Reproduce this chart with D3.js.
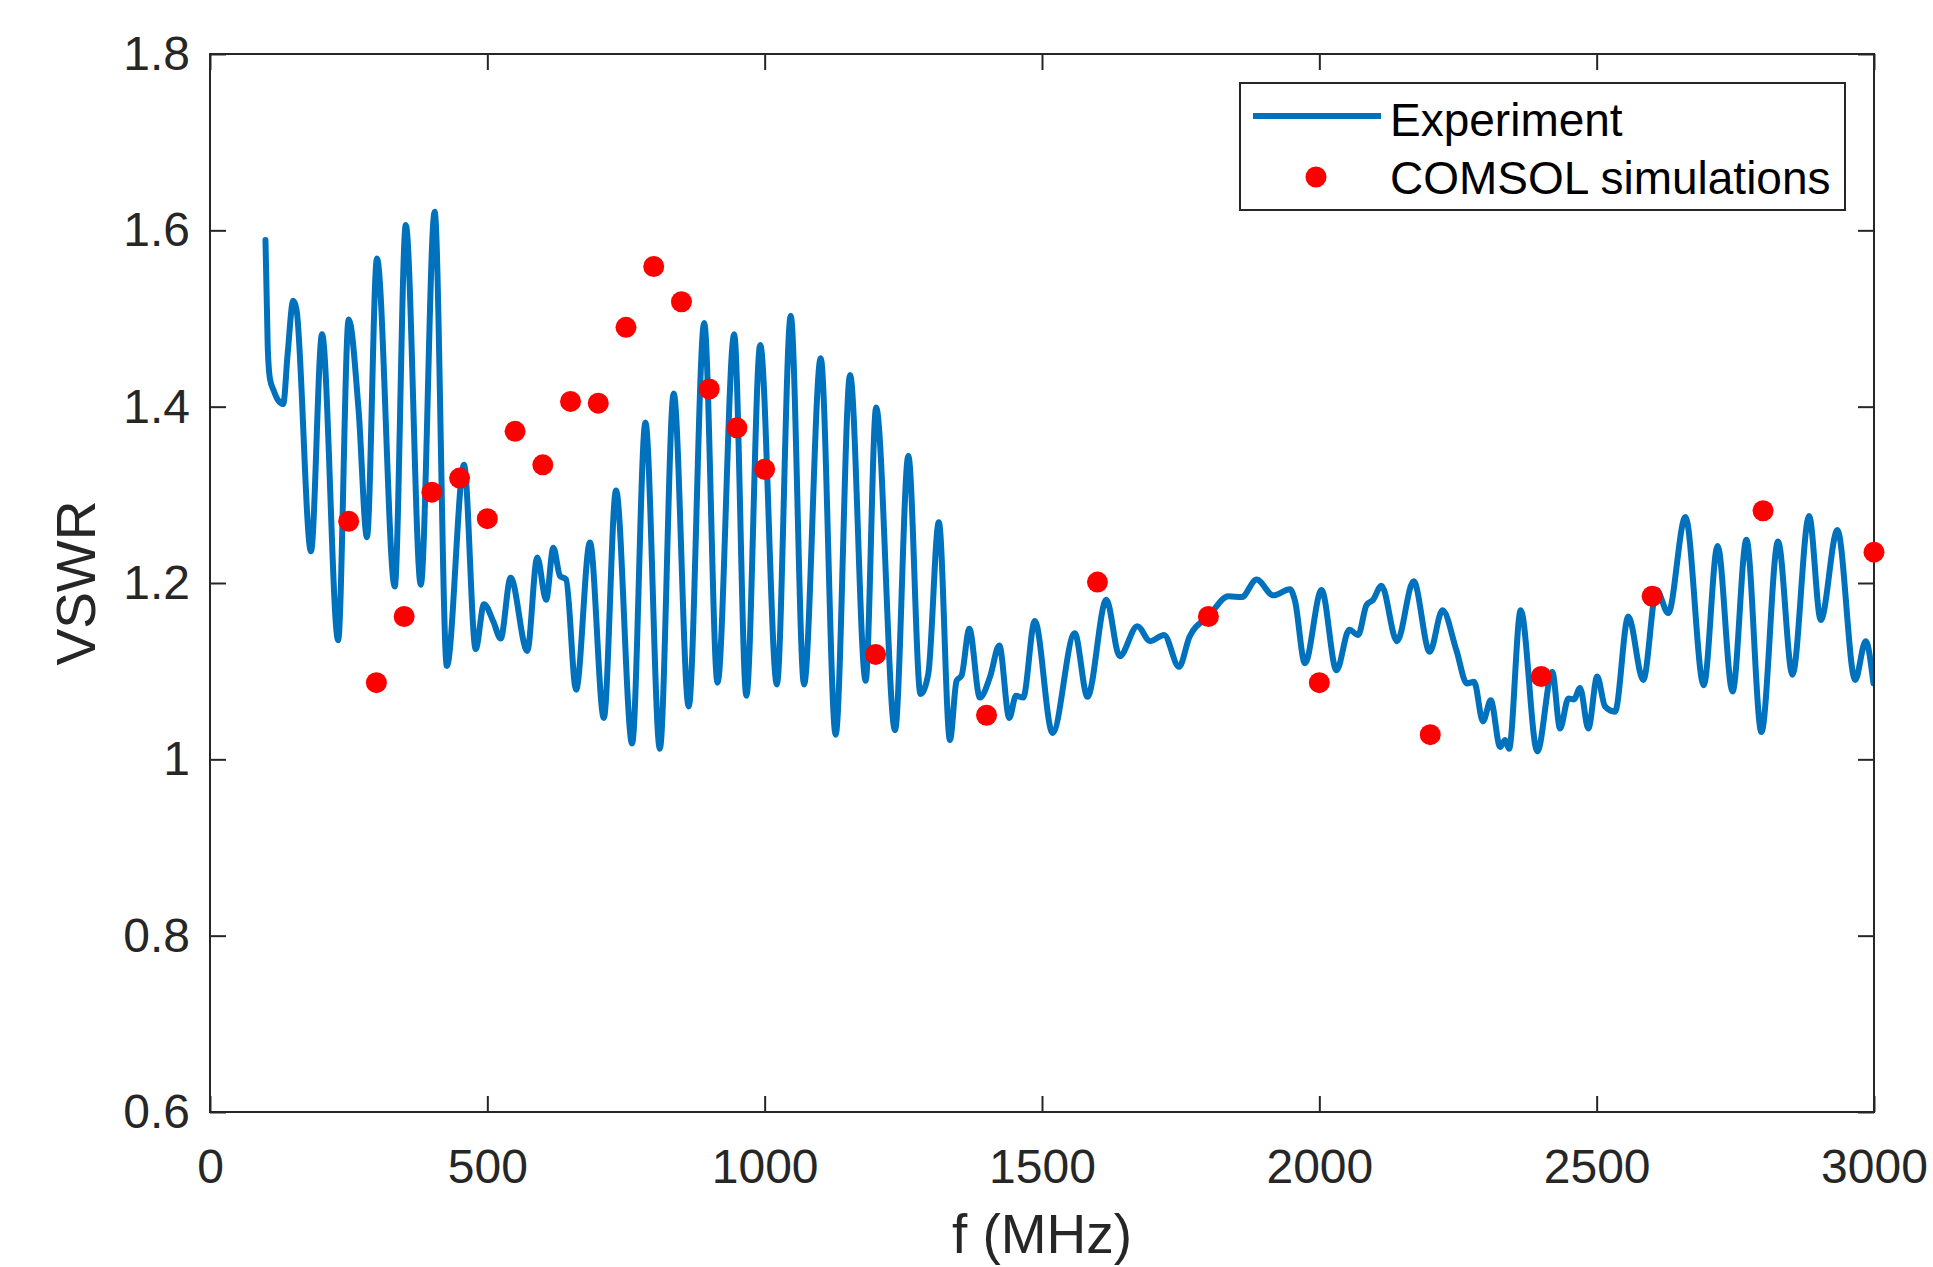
<!DOCTYPE html>
<html>
<head>
<meta charset="utf-8">
<script src="https://cdn.jsdelivr.net/npm/d3@7"></script>
<style>
  html, body { margin: 0; padding: 0; background: #fff; }
  svg { display: block; }
  text { font-family: "Liberation Sans", Arial, Helvetica, sans-serif; }
</style>
</head>
<body>
<svg id="chart" width="1933" height="1267"></svg>
<script>
// ---------------- data ----------------
const expFreq = [100,104,108,115,122,132,140,150,156,182,202,231,250,268,283,301,333,353,380,405,427,458,479,494,511,524,542,572,590,606,619,631,642,660,685,710,732,761,785,811,836,863,891,915,945,967,992,1022,1047,1071,1101,1128,1154,1182,1201,1235,1259,1281,1295,1314,1334,1346,1355,1369,1388,1406,1423,1441,1453,1466,1487,1519,1559,1582,1616,1640,1672,1695,1720,1747,1766,1800,1836,1860,1887,1917,1947,1956,1974,2004,2031,2054,2070,2085,2097,2112,2140,2170,2199,2222,2247,2266,2279,2295,2309,2326,2335,2342,2363,2393,2420,2434,2449,2459,2470,2485,2501,2515,2533,2557,2584,2608,2629,2660,2693,2718,2745,2770,2797,2827,2853,2883,2904,2934,2966,2985,2999];
const expVSWR = [1.589,1.47,1.432,1.418,1.408,1.403,1.46,1.520,1.51,1.236,1.482,1.135,1.499,1.395,1.252,1.568,1.196,1.606,1.198,1.621,1.106,1.334,1.125,1.176,1.156,1.137,1.206,1.123,1.229,1.181,1.240,1.208,1.204,1.079,1.246,1.047,1.305,1.018,1.382,1.012,1.415,1.060,1.495,1.087,1.482,1.072,1.470,1.085,1.503,1.085,1.455,1.028,1.436,1.089,1.399,1.033,1.344,1.074,1.097,1.269,1.022,1.089,1.095,1.148,1.070,1.093,1.129,1.047,1.072,1.070,1.157,1.030,1.143,1.071,1.181,1.117,1.151,1.134,1.141,1.105,1.139,1.162,1.185,1.184,1.204,1.186,1.193,1.18,1.109,1.192,1.101,1.147,1.141,1.175,1.181,1.197,1.134,1.202,1.122,1.169,1.124,1.086,1.088,1.043,1.067,1.014,1.022,1.012,1.169,1.009,1.099,1.035,1.069,1.068,1.081,1.035,1.094,1.060,1.054,1.162,1.090,1.192,1.166,1.275,1.084,1.242,1.077,1.249,1.031,1.247,1.096,1.276,1.158,1.260,1.090,1.134,1.086];

const simFreq = [250,300,350,400,450,500,550,600,650,700,750,800,850,900,950,1000,1200,1400,1600,1800,2000,2200,2400,2600,2800,3000];
const simVSWR = [1.27,1.087,1.162,1.303,1.319,1.273,1.372,1.334,1.406,1.404,1.490,1.559,1.519,1.420,1.376,1.329,1.119,1.050,1.201,1.162,1.087,1.028,1.094,1.185,1.282,1.235];

const xTicks = [0,500,1000,1500,2000,2500,3000];
const xTickLabels = ["0","500","1000","1500","2000","2500","3000"];
const yTicks = [0.6,0.8,1.0,1.2,1.4,1.6,1.8];
const yTickLabels = ["0.6","0.8","1","1.2","1.4","1.6","1.8"];

const xLabel = "f (MHz)";
const yLabel = "VSWR";
const legendLabels = ["Experiment", "COMSOL simulations"];

// ---------------- layout ----------------
const L = 210, R = 1874, T = 54, B = 1112;
const axisColor = "#262626";
const blue = "#0072BD", red = "#FF0000";

const svg = d3.select("#chart");
svg.append("rect").attr("width", 1933).attr("height", 1267).attr("fill", "#fff");

const x = d3.scaleLinear().domain([0, 3000]).range([L, R]);
const y = d3.scaleLinear().domain([0.6, 1.8]).range([B, T]);

svg.append("defs").append("clipPath").attr("id", "plotclip")
  .append("rect").attr("x", L).attr("y", T).attr("width", R - L).attr("height", B - T);

// experiment line
const expData = expFreq.map((f, i) => ({ f, v: expVSWR[i] }));
const line = d3.line().x(d => x(d.f)).y(d => y(d.v)).curve(d3.curveMonotoneX);
svg.append("path")
  .datum(expData)
  .attr("clip-path", "url(#plotclip)")
  .attr("fill", "none")
  .attr("stroke", blue)
  .attr("stroke-width", 6)
  .attr("stroke-linejoin", "round")
  .attr("stroke-linecap", "round")
  .attr("d", line);

// axes
const fmtX = d => xTickLabels[xTicks.indexOf(d)];
const fmtY = d => yTickLabels[yTicks.indexOf(d)];

function styleAxis(g) {
  g.select(".domain").remove();
  g.selectAll(".tick line").attr("stroke", axisColor).attr("stroke-width", 2);
  g.selectAll(".tick text").attr("fill", axisColor).attr("font-size", 48)
    .attr("font-family", '"Liberation Sans", Arial, sans-serif');
}

svg.append("g").attr("transform", `translate(0,${B})`)
  .call(d3.axisBottom(x).tickValues(xTicks).tickFormat(fmtX).tickSizeInner(-16).tickSizeOuter(0).tickPadding(37))
  .call(styleAxis);
svg.append("g").attr("transform", `translate(0,${T})`)
  .call(d3.axisTop(x).tickValues(xTicks).tickFormat("").tickSizeInner(-16).tickSizeOuter(0))
  .call(styleAxis);
svg.append("g").attr("transform", `translate(${L},0)`)
  .call(d3.axisLeft(y).tickValues(yTicks).tickFormat(fmtY).tickSizeInner(-16).tickSizeOuter(0).tickPadding(20))
  .call(styleAxis);
svg.append("g").attr("transform", `translate(${R},0)`)
  .call(d3.axisRight(y).tickValues(yTicks).tickFormat("").tickSizeInner(-16).tickSizeOuter(0))
  .call(styleAxis);

// box
svg.append("rect")
  .attr("x", L).attr("y", T).attr("width", R - L).attr("height", B - T)
  .attr("fill", "none").attr("stroke", axisColor).attr("stroke-width", 2);

// simulation dots
svg.append("g").selectAll("circle")
  .data(simFreq.map((f, i) => ({ f, v: simVSWR[i] })))
  .join("circle")
  .attr("cx", d => x(d.f))
  .attr("cy", d => y(d.v))
  .attr("r", 10.5)
  .attr("fill", red);

// axis labels
svg.append("text")
  .attr("x", (L + R) / 2).attr("y", 1253)
  .attr("text-anchor", "middle")
  .attr("font-size", 55).attr("fill", axisColor)
  .text(xLabel);
svg.append("text")
  .attr("transform", `translate(95,${(T + B) / 2}) rotate(-90)`)
  .attr("text-anchor", "middle")
  .attr("font-size", 55).attr("fill", axisColor)
  .text(yLabel);

// legend
const lg = svg.append("g");
lg.append("rect").attr("x", 1240).attr("y", 83).attr("width", 605).attr("height", 127)
  .attr("fill", "#fff").attr("stroke", axisColor).attr("stroke-width", 2);
lg.append("line").attr("x1", 1253).attr("x2", 1381).attr("y1", 116).attr("y2", 116)
  .attr("stroke", blue).attr("stroke-width", 6);
lg.append("text").attr("x", 1390).attr("y", 136).attr("font-size", 46).attr("fill", "#000")
  .text(legendLabels[0]);
lg.append("circle").attr("cx", 1316).attr("cy", 177).attr("r", 10.5).attr("fill", red);
lg.append("text").attr("x", 1390).attr("y", 194).attr("font-size", 46).attr("fill", "#000")
  .text(legendLabels[1]);
</script>
</body>
</html>
